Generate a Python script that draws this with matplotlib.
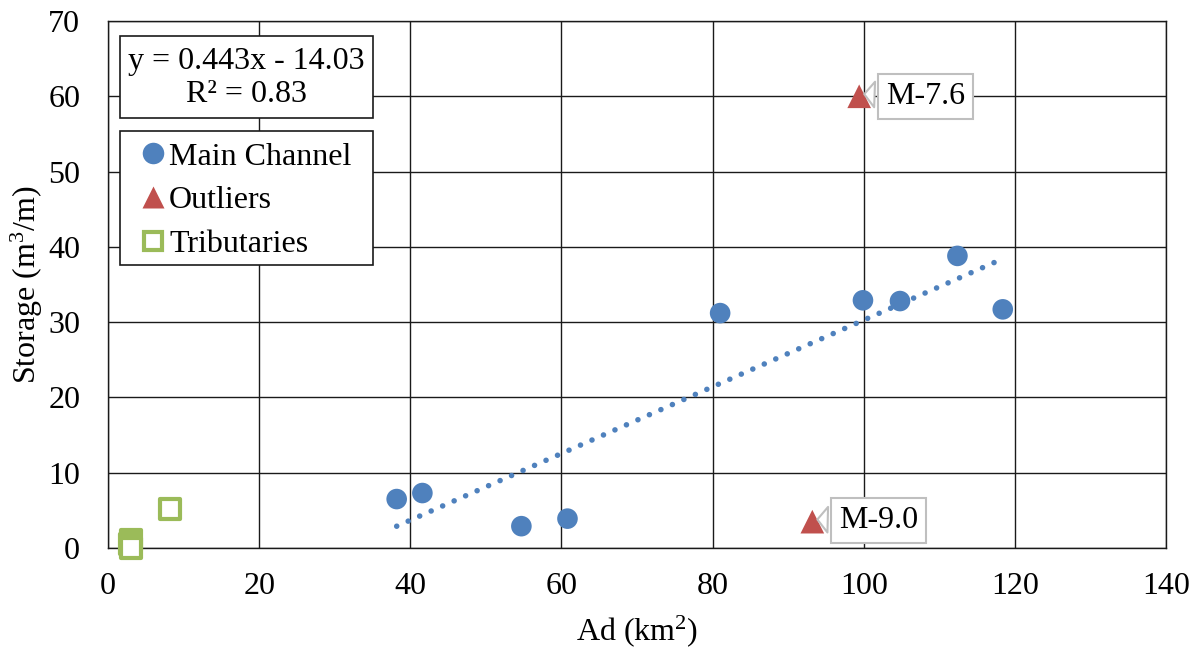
import numpy as np
import matplotlib
matplotlib.use("Agg")
import matplotlib.pyplot as plt
from matplotlib.lines import Line2D
from matplotlib.patches import Rectangle

plt.rcParams['font.family'] = ['Liberation Serif', 'DejaVu Serif']
plt.rcParams['mathtext.fontset'] = 'custom'
plt.rcParams['mathtext.rm'] = 'Liberation Serif'
plt.rcParams['mathtext.it'] = 'Liberation Serif:italic'

#%% Data
main_ad = [38.2, 41.6, 54.7, 60.8, 81.0, 99.9, 104.8, 112.4, 118.4]
main_storage = [6.5, 7.3, 2.9, 3.9, 31.2, 32.9, 32.8, 38.8, 31.7]

outlier_ad = [99.4, 93.2]
outlier_storage = [60.0, 3.5]
outlier_names = ['M-7.6', 'M-9.0']
outlier_label_xy = [(108.2, 60.0), (102.0, 3.6)]

trib_ad = [8.2, 3.0, 2.9, 3.0]
trib_storage = [5.2, 1.1, 0.5, 0.0]

slope = 0.443
intercept = -14.03
r2 = 0.83

#%% Settings
fsize = 23
blue = '#4F81BD'
red = '#C0504D'
green = '#9BBB59'
dark = '#1a1a1a'

fig = plt.figure(figsize=(12, 6.52), dpi=100)
ax = fig.add_axes([108/1200, 104/652, 1058/1200, 527/652])

ax.set_xlim(0, 140)
ax.set_ylim(0, 70)
ax.set_xticks(np.arange(0, 141, 20))
ax.set_yticks(np.arange(0, 71, 10))
ax.tick_params(axis='y', length=0, labelsize=fsize, pad=20)
ax.tick_params(axis='x', length=0, labelsize=fsize, pad=17)
ax.grid(True, color=dark, lw=1.0)
ax.set_axisbelow(True)
for s in ax.spines.values():
    s.set_color(dark)
    s.set_linewidth(1.0)

ax.set_xlabel('Ad (km$^{2}$)', fontsize=fsize, labelpad=9)
ax.set_ylabel('Storage (m$^{3}$/m)', fontsize=fsize, labelpad=2)

# linear trend through main channel points
xfit = np.array([min(main_ad), max(main_ad)])
ax.plot(xfit, slope * xfit + intercept, color=blue, lw=4,
        ls=(0, (0.01, 2.25)), dash_capstyle='round', zorder=2)

ax.scatter(main_ad, main_storage, s=220, color=blue, edgecolors='none', zorder=3)
ax.scatter(outlier_ad, outlier_storage, marker='^', s=290, color=red,
           edgecolors='none', zorder=3)
ax.scatter(trib_ad, trib_storage, marker='s', s=200, facecolors='white',
           edgecolors=green, linewidths=3, zorder=3, clip_on=False)

# callouts for the outliers
for name, (px, py), (tx, ty) in zip(outlier_names,
                                    zip(outlier_ad, outlier_storage),
                                    outlier_label_xy):
    ax.annotate(name, xy=(px + 0.3, py + 0.3), xytext=(tx, ty),
                fontsize=fsize, ha='center', va='center', zorder=5,
                bbox=dict(boxstyle='square,pad=0.25', fc='white', ec='#BFBFBF', lw=1.5),
                arrowprops=dict(arrowstyle='wedge,tail_width=0.8,shrink_factor=0.5',
                                fc='white', ec='#BFBFBF', lw=1.5))

# equation box
ax.add_patch(Rectangle((0.0113, 0.816), 0.2392, 0.1555, transform=ax.transAxes,
                       fc='white', ec=dark, lw=1.2, zorder=6))
ax.text(0.1309, 0.891, 'y = %.3fx - %.2f\nR² = %.2f' % (slope, -intercept, r2),
        transform=ax.transAxes, fontsize=fsize, ha='center', va='center',
        linespacing=1.18, zorder=7)

# legend box
ax.add_patch(Rectangle((0.0113, 0.537), 0.2392, 0.254, transform=ax.transAxes,
                       fc='white', ec=dark, lw=1.2, zorder=6))
handles = [
    Line2D([], [], ls='', marker='o', ms=15.5, color=blue, mec='none'),
    Line2D([], [], ls='', marker='^', ms=16, color=red, mec='none'),
    Line2D([], [], ls='', marker='s', ms=13, mfc='white', mec=green, mew=3),
]
leg = ax.legend(handles, ['Main Channel', 'Outliers', 'Tributaries'],
                loc='upper left', bbox_to_anchor=(0.030, 0.770),
                fontsize=fsize, frameon=False,
                handlelength=0.8, handletextpad=0.12, borderpad=0,
                labelspacing=0.45, borderaxespad=0)
leg.set_zorder(7)

fig.savefig('out.png', dpi=100)
